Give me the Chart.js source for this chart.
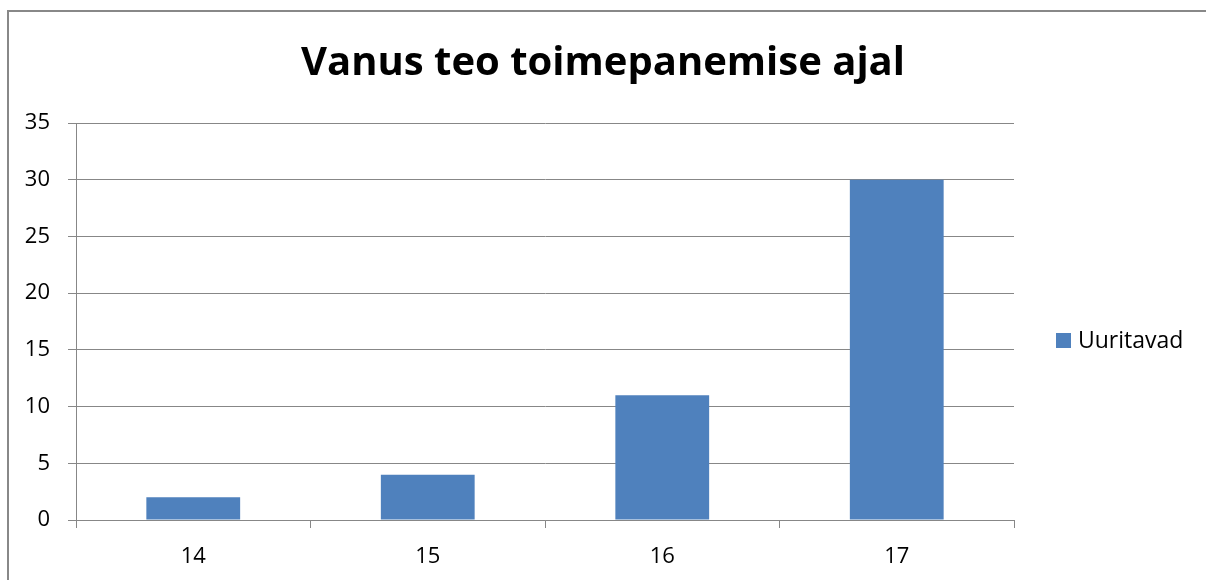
<!DOCTYPE html>
<html>
<head>
<meta charset="utf-8">
<script src="https://cdn.jsdelivr.net/npm/chart.js@4/dist/chart.umd.min.js"></script>
<style>
  html, body { margin: 0; padding: 0; background: #fff; overflow: hidden; }
  #wrap { position: relative; width: 1206px; height: 580px; overflow: hidden; }
  #frame { position: absolute; left: 7px; top: 10px; width: 1240px; height: 620px;
           border: 2px solid #888; box-sizing: border-box; }
  #myChart { position: absolute; left: 0; top: 0; }
</style>
</head>
<body>
<div id="wrap">
  <div id="frame"></div>
  <canvas id="myChart" width="1206" height="580"></canvas>
</div>
<script>
// data
const ages = ['14', '15', '16', '17'];
const uuritavad = [2, 4, 11, 30];
const yMax = 35;
const yStep = 5;

const FONT = "'Open Sans', 'Liberation Sans', sans-serif";
const GRID = '#878787';

// legend on the right, drawn from the dataset itself
const sideLegend = {
  id: 'sideLegend',
  afterDraw(chart) {
    const c = chart.ctx;
    chart.data.datasets.forEach((ds, i) => {
      const y = 341 + i * 30;
      c.save();
      c.fillStyle = ds.backgroundColor;
      c.fillRect(1056, y - 8, 15, 15);
      c.fillStyle = '#000';
      c.font = '23px ' + FONT;
      c.textBaseline = 'middle';
      c.textAlign = 'left';
      c.fillText(ds.label, 1078, y);
      c.restore();
    });
  }
};

const ctx = document.getElementById('myChart').getContext('2d');
const myChart = new Chart(ctx, {
  type: 'bar',
  data: {
    labels: ages,
    datasets: [{
      label: 'Uuritavad',
      data: uuritavad,
      backgroundColor: '#4F81BD',
      categoryPercentage: 1,
      barPercentage: 0.4
    }]
  },
  options: {
    responsive: false,
    devicePixelRatio: 1,
    animation: false,
    layout: { padding: { left: 0, right: 0, top: 10, bottom: 0 } },
    plugins: {
      legend: { display: false },
      tooltip: { enabled: false },
      title: {
        display: true,
        text: 'Vanus teo toimepanemise ajal',
        color: '#000',
        font: { family: FONT, size: 40, weight: 'bold' },
        padding: { top: 30, bottom: 35 }
      }
    },
    scales: {
      x: {
        afterFit(scale) { scale.height = 60; },
        grid: { offset: true, drawOnChartArea: false, drawTicks: true, tickLength: 8, color: GRID, lineWidth: 1 },
        border: { color: GRID, width: 1 },
        ticks: { color: '#000', font: { family: FONT, size: 22 }, padding: 16 }
      },
      y: {
        min: 0,
        max: yMax,
        afterFit(scale) { scale.width = 76; },
        grid: { color: GRID, lineWidth: 1, tickLength: 8 },
        border: { color: GRID, width: 1 },
        ticks: { stepSize: yStep, color: '#000', font: { family: FONT, size: 22 }, padding: 18 }
      },
      // empty axis that only keeps room for the legend on the right
      side: {
        type: 'linear',
        position: 'right',
        afterFit(scale) { scale.width = 192; },
        grid: { display: false },
        border: { display: false },
        ticks: { display: false }
      }
    }
  },
  plugins: [sideLegend]
});
</script>
</body>
</html>
